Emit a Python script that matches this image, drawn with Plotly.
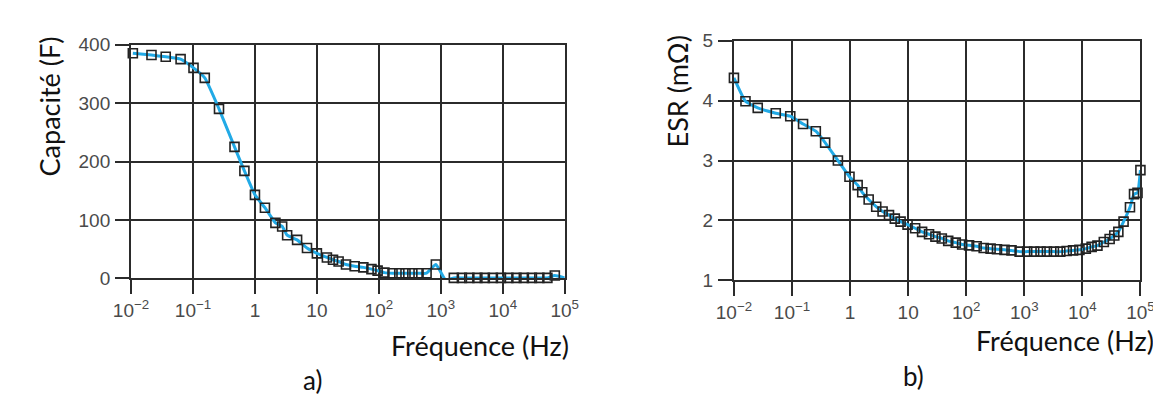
import plotly.graph_objects as go

W, H = 1161, 398

# ---------------- data ----------------
tick_vals = [0.01, 0.1, 1, 10, 100, 1000, 10000, 100000]
tick_text = ["10<sup>−2</sup>", "10<sup>−1</sup>", "1", "10", "10<sup>2</sup>",
             "10<sup>3</sup>", "10<sup>4</sup>", "10<sup>5</sup>"]

cap_freq = [0.0107, 0.0214, 0.0363, 0.0631, 0.102, 0.155, 0.263, 0.468, 0.676, 1.0,
            1.45, 2.14, 2.75, 3.31, 4.79, 6.92, 10.0, 14.5, 18.2, 22.4,
            29.5, 40.7, 56.2, 75.9, 95.5, 123, 166, 214, 269, 347,
            437, 589, 832, 1622, 2188, 2884, 3890, 5129, 6918, 9333,
            12300, 16600, 21880, 29500, 38900, 52500, 69200]
cap_vals = [385, 382, 379, 375, 360, 343, 290, 225, 184, 143,
            121, 95, 89, 74, 66, 52, 43, 36, 32, 29,
            24, 21, 19, 16, 13.5, 10, 9, 9, 9, 9,
            9, 9, 24, 1, 1, 1, 1, 1, 1, 1,
            1, 1, 1, 1, 1, 1, 5]
# extra points of the fitted curve (no marker)
cap_curve_extra_freq = [1200, 100000]
cap_curve_extra_vals = [-3, 1]

esr_freq = [0.01, 0.0158, 0.0257, 0.0525, 0.0933, 0.155, 0.257, 0.372, 0.617, 0.977,
            1.35, 1.62, 2.09, 2.82, 3.63, 4.68, 5.89, 7.41, 9.77, 13.2,
            17.4, 22.9, 29.5, 38.0, 49.0, 66.1, 85.1, 112, 151, 200,
            263, 339, 457, 603, 832, 1122, 1479, 1905, 2455, 3236,
            4169, 5370, 6918, 8913, 11480, 14450, 18200, 23440, 29510, 35480,
            41690, 51290, 66070, 77620, 89130, 100000]
esr_vals = [4.38, 3.99, 3.88, 3.79, 3.74, 3.61, 3.49, 3.30, 3.00, 2.73,
            2.59, 2.47, 2.35, 2.23, 2.15, 2.09, 2.03, 1.98, 1.93, 1.87,
            1.81, 1.77, 1.73, 1.70, 1.66, 1.63, 1.60, 1.585, 1.57, 1.54,
            1.53, 1.52, 1.51, 1.50, 1.48, 1.48, 1.48, 1.48, 1.48, 1.48,
            1.48, 1.49, 1.50, 1.51, 1.53, 1.56, 1.58, 1.64, 1.69, 1.75,
            1.81, 1.98, 2.22, 2.44, 2.46, 2.84]

cap_yticks = [0, 100, 200, 300, 400]
esr_yticks = [1, 2, 3, 4, 5]

# ---------------- styling ----------------
LINE_BLUE = "#22aae6"
GRID = "#2b2b2b"
TICK_FONT = dict(family="Liberation Sans, Arial", size=19, color="#4a4a4a")
TITLE_FONT = "Lato, Carlito, Calibri, sans-serif"


def px_x(x):
    return x / W


def px_y(y):
    return 1 - y / H


fig = go.Figure()

# left panel curve
pairs = sorted(zip(cap_freq + cap_curve_extra_freq, cap_vals + cap_curve_extra_vals))
fig.add_trace(go.Scatter(x=[p[0] for p in pairs], y=[p[1] for p in pairs], mode="lines",
                         line=dict(color=LINE_BLUE, width=3, shape="spline", smoothing=0.4),
                         xaxis="x", yaxis="y", showlegend=False, hoverinfo="skip"))
fig.add_trace(go.Scatter(x=cap_freq, y=cap_vals, mode="markers",
                         marker=dict(symbol="square-open", size=9, color="#222222",
                                     line=dict(width=1.6)),
                         xaxis="x", yaxis="y", showlegend=False, cliponaxis=False))

# right panel curve
fig.add_trace(go.Scatter(x=esr_freq, y=esr_vals, mode="lines",
                         line=dict(color=LINE_BLUE, width=3, shape="spline", smoothing=0.4),
                         xaxis="x2", yaxis="y2", showlegend=False, hoverinfo="skip"))
fig.add_trace(go.Scatter(x=esr_freq, y=esr_vals, mode="markers",
                         marker=dict(symbol="square-open", size=9, color="#222222",
                                     line=dict(width=1.6)),
                         xaxis="x2", yaxis="y2", showlegend=False, cliponaxis=False))

common_x = dict(type="log", range=[-2, 5], tickvals=tick_vals, ticktext=tick_text,
                showgrid=True, gridcolor=GRID, gridwidth=2, showline=True, linecolor=GRID,
                linewidth=2, mirror=True, ticks="outside", ticklen=14, tickwidth=2,
                tickcolor=GRID, tickfont=TICK_FONT, zeroline=False, ticklabelstandoff=0)
common_y = dict(showgrid=True, gridcolor=GRID, gridwidth=2, showline=True, linecolor=GRID,
                linewidth=2, mirror=True, ticks="outside", ticklen=14, tickwidth=2,
                tickcolor=GRID, tickfont=TICK_FONT, zeroline=False, ticklabelstandoff=1)

fig.update_layout(
    width=W, height=H, margin=dict(l=0, r=0, t=0, b=0),
    paper_bgcolor="white", plot_bgcolor="white",
    xaxis=dict(domain=[px_x(108), px_x(554)], anchor="y", **common_x),
    yaxis=dict(domain=[px_y(275), px_y(28)], anchor="x", range=[0, 400],
               tickvals=cap_yticks, **common_y),
    xaxis2=dict(domain=[px_x(728), px_x(1146)], anchor="y2", **common_x),
    yaxis2=dict(domain=[px_y(277), px_y(24)], anchor="x2", range=[1, 5],
                tickvals=esr_yticks, **common_y),
)

texts = [
    ("Capacité (F)", 24, 93, 27, -90),
    ("ESR (mΩ)", 670, 78, 27, -90),
    ("Fréquence (Hz)", 467, 346, 27, 0),
    ("Fréquence (Hz)", 1068, 340, 27, 0),
    ("a)", 295, 382, 26, 0),
    ("b)", 913, 378, 26, 0),
]
for t, x, y, s, ang in texts:
    fig.add_annotation(text=t, x=px_x(x), y=px_y(y), xref="paper", yref="paper",
                       xanchor="center", yanchor="middle", showarrow=False, textangle=ang,
                       font=dict(family=TITLE_FONT, size=s, color="#111111"))

fig.write_html("out.html")
